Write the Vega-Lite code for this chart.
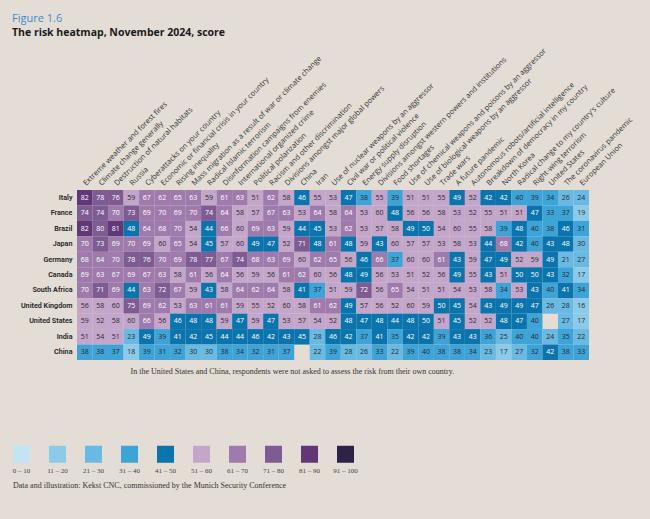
{
"$schema": "https://vega.github.io/schema/vega-lite/v6.json",
"autosize": {"type": "none"},
"width": 512, "height": 170,
"padding": {"left": 77, "top": 190, "right": 61, "bottom": 159},
"background": "#e3ddd6",
"config": {"view": {"stroke": null}},
"title": {"text": "Figure 1.6", "subtitle": "The risk heatmap, November 2024, score", "anchor": "start", "frame": "group", "dx": -65, "font": "Open Sans", "fontSize": 11, "fontWeight": "normal", "color": "#3d8ec4", "subtitleFont": "Open Sans", "subtitleFontSize": 10.5, "subtitleFontWeight": "bold", "subtitleColor": "#1a1a1a", "subtitlePadding": 4, "offset": 8},
"datasets": {
"risks": [
{"k":1,"risk":"Extreme weather and forest fires"},
{"k":2,"risk":"Climate change generally"},
{"k":3,"risk":"Destruction of natural habitats"},
{"k":4,"risk":"Russia"},
{"k":5,"risk":"Cyberattacks on your country"},
{"k":6,"risk":"Economic or financial crisis in your country"},
{"k":7,"risk":"Rising inequality"},
{"k":8,"risk":"Mass migration as a result of war or climate change"},
{"k":9,"risk":"Radical Islamic terrorism"},
{"k":10,"risk":"Disinformation campaigns from enemies"},
{"k":11,"risk":"International organized crime"},
{"k":12,"risk":"Political polarization"},
{"k":13,"risk":"Racism and other discrimination"},
{"k":14,"risk":"Divisions amongst major global powers"},
{"k":15,"risk":"China"},
{"k":16,"risk":"Iran"},
{"k":17,"risk":"Use of nuclear weapons by an aggressor"},
{"k":18,"risk":"Civil war or political violence"},
{"k":19,"risk":"Energy supply disruption"},
{"k":20,"risk":"Divisions amongst western powers and institutions"},
{"k":21,"risk":"Food shortages"},
{"k":22,"risk":"Use of chemical weapons and poisons by an aggressor"},
{"k":23,"risk":"Use of biological weapons by an aggressor"},
{"k":24,"risk":"Trade wars"},
{"k":25,"risk":"A future pandemic"},
{"k":26,"risk":"Autonomous robots/artificial intelligence"},
{"k":27,"risk":"Breakdown of democracy in my country"},
{"k":28,"risk":"North Korea"},
{"k":29,"risk":"Radical change to my country's culture"},
{"k":30,"risk":"Right-wing terrorism"},
{"k":31,"risk":"United States"},
{"k":32,"risk":"The coronavirus pandemic"},
{"k":33,"risk":"European Union"}
],
"cells": [
{"c":"Italy","k":1,"v":82},{"c":"Italy","k":2,"v":78},{"c":"Italy","k":3,"v":76},{"c":"Italy","k":4,"v":59},{"c":"Italy","k":5,"v":67},{"c":"Italy","k":6,"v":62},{"c":"Italy","k":7,"v":65},{"c":"Italy","k":8,"v":63},{"c":"Italy","k":9,"v":59},{"c":"Italy","k":10,"v":61},{"c":"Italy","k":11,"v":63},{"c":"Italy","k":12,"v":51},{"c":"Italy","k":13,"v":62},{"c":"Italy","k":14,"v":58},{"c":"Italy","k":15,"v":46},{"c":"Italy","k":16,"v":55},{"c":"Italy","k":17,"v":53},{"c":"Italy","k":18,"v":47},{"c":"Italy","k":19,"v":38},{"c":"Italy","k":20,"v":55},{"c":"Italy","k":21,"v":39},{"c":"Italy","k":22,"v":51},{"c":"Italy","k":23,"v":51},{"c":"Italy","k":24,"v":55},{"c":"Italy","k":25,"v":49},{"c":"Italy","k":26,"v":52},{"c":"Italy","k":27,"v":42},{"c":"Italy","k":28,"v":42},{"c":"Italy","k":29,"v":40},{"c":"Italy","k":30,"v":39},{"c":"Italy","k":31,"v":34},{"c":"Italy","k":32,"v":26},{"c":"Italy","k":33,"v":24},
{"c":"France","k":1,"v":74},{"c":"France","k":2,"v":74},{"c":"France","k":3,"v":70},{"c":"France","k":4,"v":73},{"c":"France","k":5,"v":69},{"c":"France","k":6,"v":70},{"c":"France","k":7,"v":69},{"c":"France","k":8,"v":70},{"c":"France","k":9,"v":74},{"c":"France","k":10,"v":64},{"c":"France","k":11,"v":58},{"c":"France","k":12,"v":57},{"c":"France","k":13,"v":67},{"c":"France","k":14,"v":63},{"c":"France","k":15,"v":53},{"c":"France","k":16,"v":64},{"c":"France","k":17,"v":58},{"c":"France","k":18,"v":64},{"c":"France","k":19,"v":53},{"c":"France","k":20,"v":60},{"c":"France","k":21,"v":48},{"c":"France","k":22,"v":56},{"c":"France","k":23,"v":56},{"c":"France","k":24,"v":58},{"c":"France","k":25,"v":53},{"c":"France","k":26,"v":52},{"c":"France","k":27,"v":55},{"c":"France","k":28,"v":51},{"c":"France","k":29,"v":51},{"c":"France","k":30,"v":47},{"c":"France","k":31,"v":33},{"c":"France","k":32,"v":37},{"c":"France","k":33,"v":19},
{"c":"Brazil","k":1,"v":82},{"c":"Brazil","k":2,"v":80},{"c":"Brazil","k":3,"v":81},{"c":"Brazil","k":4,"v":48},{"c":"Brazil","k":5,"v":64},{"c":"Brazil","k":6,"v":68},{"c":"Brazil","k":7,"v":70},{"c":"Brazil","k":8,"v":54},{"c":"Brazil","k":9,"v":44},{"c":"Brazil","k":10,"v":66},{"c":"Brazil","k":11,"v":60},{"c":"Brazil","k":12,"v":69},{"c":"Brazil","k":13,"v":63},{"c":"Brazil","k":14,"v":59},{"c":"Brazil","k":15,"v":44},{"c":"Brazil","k":16,"v":45},{"c":"Brazil","k":17,"v":53},{"c":"Brazil","k":18,"v":62},{"c":"Brazil","k":19,"v":53},{"c":"Brazil","k":20,"v":57},{"c":"Brazil","k":21,"v":58},{"c":"Brazil","k":22,"v":49},{"c":"Brazil","k":23,"v":50},{"c":"Brazil","k":24,"v":54},{"c":"Brazil","k":25,"v":60},{"c":"Brazil","k":26,"v":55},{"c":"Brazil","k":27,"v":58},{"c":"Brazil","k":28,"v":39},{"c":"Brazil","k":29,"v":48},{"c":"Brazil","k":30,"v":40},{"c":"Brazil","k":31,"v":38},{"c":"Brazil","k":32,"v":46},{"c":"Brazil","k":33,"v":31},
{"c":"Japan","k":1,"v":70},{"c":"Japan","k":2,"v":73},{"c":"Japan","k":3,"v":69},{"c":"Japan","k":4,"v":70},{"c":"Japan","k":5,"v":69},{"c":"Japan","k":6,"v":60},{"c":"Japan","k":7,"v":65},{"c":"Japan","k":8,"v":54},{"c":"Japan","k":9,"v":45},{"c":"Japan","k":10,"v":57},{"c":"Japan","k":11,"v":60},{"c":"Japan","k":12,"v":49},{"c":"Japan","k":13,"v":47},{"c":"Japan","k":14,"v":52},{"c":"Japan","k":15,"v":71},{"c":"Japan","k":16,"v":48},{"c":"Japan","k":17,"v":61},{"c":"Japan","k":18,"v":48},{"c":"Japan","k":19,"v":59},{"c":"Japan","k":20,"v":43},{"c":"Japan","k":21,"v":60},{"c":"Japan","k":22,"v":57},{"c":"Japan","k":23,"v":57},{"c":"Japan","k":24,"v":53},{"c":"Japan","k":25,"v":58},{"c":"Japan","k":26,"v":53},{"c":"Japan","k":27,"v":44},{"c":"Japan","k":28,"v":68},{"c":"Japan","k":29,"v":42},{"c":"Japan","k":30,"v":40},{"c":"Japan","k":31,"v":43},{"c":"Japan","k":32,"v":48},{"c":"Japan","k":33,"v":30},
{"c":"Germany","k":1,"v":68},{"c":"Germany","k":2,"v":64},{"c":"Germany","k":3,"v":70},{"c":"Germany","k":4,"v":78},{"c":"Germany","k":5,"v":76},{"c":"Germany","k":6,"v":70},{"c":"Germany","k":7,"v":69},{"c":"Germany","k":8,"v":78},{"c":"Germany","k":9,"v":77},{"c":"Germany","k":10,"v":67},{"c":"Germany","k":11,"v":74},{"c":"Germany","k":12,"v":68},{"c":"Germany","k":13,"v":63},{"c":"Germany","k":14,"v":69},{"c":"Germany","k":15,"v":60},{"c":"Germany","k":16,"v":62},{"c":"Germany","k":17,"v":65},{"c":"Germany","k":18,"v":56},{"c":"Germany","k":19,"v":46},{"c":"Germany","k":20,"v":66},{"c":"Germany","k":21,"v":37},{"c":"Germany","k":22,"v":60},{"c":"Germany","k":23,"v":60},{"c":"Germany","k":24,"v":61},{"c":"Germany","k":25,"v":43},{"c":"Germany","k":26,"v":59},{"c":"Germany","k":27,"v":47},{"c":"Germany","k":28,"v":49},{"c":"Germany","k":29,"v":52},{"c":"Germany","k":30,"v":59},{"c":"Germany","k":31,"v":49},{"c":"Germany","k":32,"v":21},{"c":"Germany","k":33,"v":27},
{"c":"Canada","k":1,"v":69},{"c":"Canada","k":2,"v":63},{"c":"Canada","k":3,"v":67},{"c":"Canada","k":4,"v":69},{"c":"Canada","k":5,"v":67},{"c":"Canada","k":6,"v":63},{"c":"Canada","k":7,"v":58},{"c":"Canada","k":8,"v":61},{"c":"Canada","k":9,"v":56},{"c":"Canada","k":10,"v":64},{"c":"Canada","k":11,"v":56},{"c":"Canada","k":12,"v":59},{"c":"Canada","k":13,"v":56},{"c":"Canada","k":14,"v":61},{"c":"Canada","k":15,"v":62},{"c":"Canada","k":16,"v":60},{"c":"Canada","k":17,"v":56},{"c":"Canada","k":18,"v":48},{"c":"Canada","k":19,"v":49},{"c":"Canada","k":20,"v":56},{"c":"Canada","k":21,"v":53},{"c":"Canada","k":22,"v":51},{"c":"Canada","k":23,"v":52},{"c":"Canada","k":24,"v":56},{"c":"Canada","k":25,"v":49},{"c":"Canada","k":26,"v":55},{"c":"Canada","k":27,"v":43},{"c":"Canada","k":28,"v":51},{"c":"Canada","k":29,"v":50},{"c":"Canada","k":30,"v":50},{"c":"Canada","k":31,"v":43},{"c":"Canada","k":32,"v":32},{"c":"Canada","k":33,"v":17},
{"c":"South Africa","k":1,"v":70},{"c":"South Africa","k":2,"v":71},{"c":"South Africa","k":3,"v":69},{"c":"South Africa","k":4,"v":44},{"c":"South Africa","k":5,"v":63},{"c":"South Africa","k":6,"v":72},{"c":"South Africa","k":7,"v":67},{"c":"South Africa","k":8,"v":59},{"c":"South Africa","k":9,"v":43},{"c":"South Africa","k":10,"v":58},{"c":"South Africa","k":11,"v":64},{"c":"South Africa","k":12,"v":62},{"c":"South Africa","k":13,"v":64},{"c":"South Africa","k":14,"v":58},{"c":"South Africa","k":15,"v":41},{"c":"South Africa","k":16,"v":37},{"c":"South Africa","k":17,"v":51},{"c":"South Africa","k":18,"v":59},{"c":"South Africa","k":19,"v":72},{"c":"South Africa","k":20,"v":56},{"c":"South Africa","k":21,"v":65},{"c":"South Africa","k":22,"v":54},{"c":"South Africa","k":23,"v":51},{"c":"South Africa","k":24,"v":51},{"c":"South Africa","k":25,"v":54},{"c":"South Africa","k":26,"v":53},{"c":"South Africa","k":27,"v":58},{"c":"South Africa","k":28,"v":34},{"c":"South Africa","k":29,"v":53},{"c":"South Africa","k":30,"v":43},{"c":"South Africa","k":31,"v":40},{"c":"South Africa","k":32,"v":41},{"c":"South Africa","k":33,"v":34},
{"c":"United Kingdom","k":1,"v":56},{"c":"United Kingdom","k":2,"v":58},{"c":"United Kingdom","k":3,"v":60},{"c":"United Kingdom","k":4,"v":75},{"c":"United Kingdom","k":5,"v":69},{"c":"United Kingdom","k":6,"v":62},{"c":"United Kingdom","k":7,"v":53},{"c":"United Kingdom","k":8,"v":63},{"c":"United Kingdom","k":9,"v":61},{"c":"United Kingdom","k":10,"v":61},{"c":"United Kingdom","k":11,"v":59},{"c":"United Kingdom","k":12,"v":55},{"c":"United Kingdom","k":13,"v":52},{"c":"United Kingdom","k":14,"v":60},{"c":"United Kingdom","k":15,"v":58},{"c":"United Kingdom","k":16,"v":61},{"c":"United Kingdom","k":17,"v":62},{"c":"United Kingdom","k":18,"v":49},{"c":"United Kingdom","k":19,"v":57},{"c":"United Kingdom","k":20,"v":56},{"c":"United Kingdom","k":21,"v":52},{"c":"United Kingdom","k":22,"v":60},{"c":"United Kingdom","k":23,"v":59},{"c":"United Kingdom","k":24,"v":50},{"c":"United Kingdom","k":25,"v":45},{"c":"United Kingdom","k":26,"v":54},{"c":"United Kingdom","k":27,"v":43},{"c":"United Kingdom","k":28,"v":49},{"c":"United Kingdom","k":29,"v":49},{"c":"United Kingdom","k":30,"v":47},{"c":"United Kingdom","k":31,"v":26},{"c":"United Kingdom","k":32,"v":28},{"c":"United Kingdom","k":33,"v":16},
{"c":"United States","k":1,"v":59},{"c":"United States","k":2,"v":52},{"c":"United States","k":3,"v":58},{"c":"United States","k":4,"v":60},{"c":"United States","k":5,"v":66},{"c":"United States","k":6,"v":56},{"c":"United States","k":7,"v":46},{"c":"United States","k":8,"v":48},{"c":"United States","k":9,"v":48},{"c":"United States","k":10,"v":59},{"c":"United States","k":11,"v":47},{"c":"United States","k":12,"v":59},{"c":"United States","k":13,"v":47},{"c":"United States","k":14,"v":53},{"c":"United States","k":15,"v":57},{"c":"United States","k":16,"v":54},{"c":"United States","k":17,"v":52},{"c":"United States","k":18,"v":48},{"c":"United States","k":19,"v":47},{"c":"United States","k":20,"v":48},{"c":"United States","k":21,"v":44},{"c":"United States","k":22,"v":48},{"c":"United States","k":23,"v":50},{"c":"United States","k":24,"v":51},{"c":"United States","k":25,"v":45},{"c":"United States","k":26,"v":52},{"c":"United States","k":27,"v":52},{"c":"United States","k":28,"v":48},{"c":"United States","k":29,"v":47},{"c":"United States","k":30,"v":40},{"c":"United States","k":32,"v":27},{"c":"United States","k":33,"v":17},
{"c":"India","k":1,"v":51},{"c":"India","k":2,"v":54},{"c":"India","k":3,"v":51},{"c":"India","k":4,"v":23},{"c":"India","k":5,"v":49},{"c":"India","k":6,"v":39},{"c":"India","k":7,"v":41},{"c":"India","k":8,"v":42},{"c":"India","k":9,"v":45},{"c":"India","k":10,"v":44},{"c":"India","k":11,"v":44},{"c":"India","k":12,"v":46},{"c":"India","k":13,"v":42},{"c":"India","k":14,"v":43},{"c":"India","k":15,"v":45},{"c":"India","k":16,"v":28},{"c":"India","k":17,"v":46},{"c":"India","k":18,"v":42},{"c":"India","k":19,"v":37},{"c":"India","k":20,"v":41},{"c":"India","k":21,"v":35},{"c":"India","k":22,"v":42},{"c":"India","k":23,"v":42},{"c":"India","k":24,"v":39},{"c":"India","k":25,"v":43},{"c":"India","k":26,"v":43},{"c":"India","k":27,"v":36},{"c":"India","k":28,"v":25},{"c":"India","k":29,"v":40},{"c":"India","k":30,"v":40},{"c":"India","k":31,"v":24},{"c":"India","k":32,"v":35},{"c":"India","k":33,"v":22},
{"c":"China","k":1,"v":38},{"c":"China","k":2,"v":38},{"c":"China","k":3,"v":37},{"c":"China","k":4,"v":18},{"c":"China","k":5,"v":39},{"c":"China","k":6,"v":31},{"c":"China","k":7,"v":32},{"c":"China","k":8,"v":30},{"c":"China","k":9,"v":30},{"c":"China","k":10,"v":38},{"c":"China","k":11,"v":34},{"c":"China","k":12,"v":32},{"c":"China","k":13,"v":31},{"c":"China","k":14,"v":37},{"c":"China","k":16,"v":22},{"c":"China","k":17,"v":39},{"c":"China","k":18,"v":28},{"c":"China","k":19,"v":26},{"c":"China","k":20,"v":33},{"c":"China","k":21,"v":22},{"c":"China","k":22,"v":39},{"c":"China","k":23,"v":40},{"c":"China","k":24,"v":38},{"c":"China","k":25,"v":38},{"c":"China","k":26,"v":34},{"c":"China","k":27,"v":23},{"c":"China","k":28,"v":17},{"c":"China","k":29,"v":27},{"c":"China","k":30,"v":32},{"c":"China","k":31,"v":42},{"c":"China","k":32,"v":38},{"c":"China","k":33,"v":33}
]
},
"data": {"name": "cells"},
"transform": [{"lookup": "k", "from": {"data": {"name": "risks"}, "key": "k", "fields": ["risk"]}}],
"layer": [
{
"mark": {"type": "rect"},
"encoding": {
"x": {"field": "risk", "type": "nominal", "sort": {"field": "k", "op": "min"}, "scale": {"paddingInner": 0, "paddingOuter": 0},
  "axis": {"orient": "top", "title": null, "domain": false, "ticks": false, "labelAngle": -45, "labelAlign": "left", "labelBaseline": "middle", "labelFont": "Open Sans", "labelFontSize": 7.5, "labelColor": "#333333", "labelPadding": 6, "labelLimit": 300}},
"y": {"field": "c", "type": "nominal", "sort": ["Italy","France","Brazil","Japan","Germany","Canada","South Africa","United Kingdom","United States","India","China"], "scale": {"paddingInner": 0, "paddingOuter": 0},
  "axis": {"title": null, "domain": false, "ticks": false, "labelFont": "Roboto", "labelFontSize": 7.2, "labelFontWeight": 600, "labelColor": "#222222", "labelPadding": 5}},
"fill": {"field": "v", "type": "quantitative",
  "scale": {"type": "threshold", "domain": [11,21,31,41,51,61,71,81,91], "range": ["#c4e4f4","#8ccaea","#6ab9e3","#3ea3d6","#0b74ad","#c4a6cb","#9f7bad","#7e5b93","#623777","#2f2249"]},
  "legend": {"type": "symbol", "orient": "none", "legendX": -64, "legendY": 272, "direction": "horizontal", "gridAlign": "all", "columnPadding": 11, "labelOverlap": false,
    "title": "Data and illustration: Kekst CNC, commissioned by the Munich Security Conference", "titleOrient": "bottom", "titleAnchor": "start", "titleFont": "Liberation Serif", "titleFontSize": 8, "titleFontWeight": "normal", "titleColor": "#333333", "titlePadding": 8, "titleLimit": 600,
    "symbolType": "M-1,-2.94H1V-0.94H-1Z", "symbolSize": 289, "symbolStrokeWidth": 0, "symbolOpacity": 1,
    "labelAlign": "center", "labelOffset": -8.5, "labelFont": "Liberation Serif", "labelFontSize": 7, "labelColor": "#444444",
    "labelExpr": "datum.value < 11 ? '0 – 10' : datum.value >= 91 ? '91 – 100' : datum.value + ' – ' + (datum.value + 9)"}},
"opacity": {"field": "v", "type": "quantitative",
  "scale": {"type": "threshold", "domain": [11,21,31,41,51,61,71,81,91], "range": [1,1,1,1,1,1,1,1,1,1]}}
}
},
{
"mark": {"type": "text", "font": "Open Sans", "fontSize": 7},
"encoding": {
"x": {"field": "risk", "type": "nominal", "sort": {"field": "k", "op": "min"},
  "axis": {"orient": "bottom", "labels": false, "domain": false, "ticks": false, "title": "In the United States and China, respondents were not asked to assess the risk from their own country.", "titleFont": "Liberation Serif", "titleFontSize": 8, "titleFontWeight": "normal", "titleColor": "#333333", "titlePadding": 7, "titleAnchor": "start", "titleAlign": "left", "titleX": 53}},
"y": {"field": "c", "type": "nominal", "sort": ["Italy","France","Brazil","Japan","Germany","Canada","South Africa","United Kingdom","United States","India","China"],
  "axis": {"title": null, "domain": false, "ticks": false, "labelFont": "Roboto", "labelFontSize": 7.2, "labelFontWeight": 600, "labelColor": "#222222", "labelPadding": 5}},
"text": {"field": "v", "type": "quantitative"},
"color": {"condition": {"test": "(datum.v >= 41 && datum.v <= 50) || datum.v >= 61", "value": "#ffffff"}, "value": "#2b2b2b"}
}
}
],
"resolve": {"axis": {"x": "independent"}}
}
